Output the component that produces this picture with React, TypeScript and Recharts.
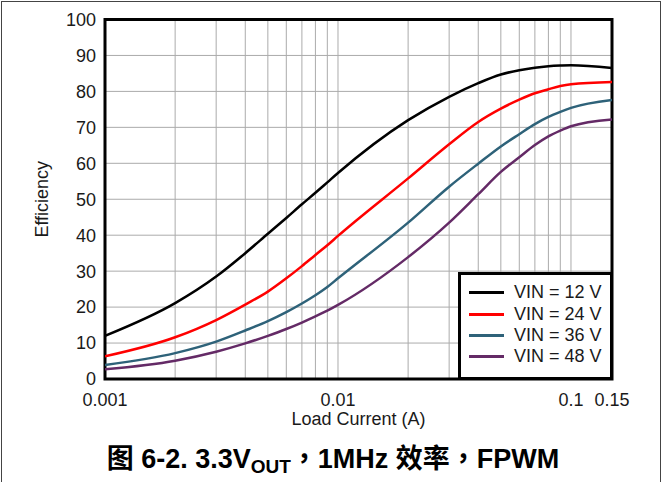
import {
  LineChart,
  Line,
  XAxis,
  YAxis,
  CartesianGrid,
  ReferenceArea,
  Legend,
} from "recharts";

// Load current (A) sample points
const currents = [
  0.001, 0.002, 0.003, 0.004, 0.005, 0.006, 0.007, 0.008, 0.009,
  0.01, 0.02, 0.03, 0.04, 0.05, 0.06, 0.07, 0.08, 0.09, 0.1, 0.15,
];

// Efficiency (%) per input voltage
const vin12 = [12, 21.1, 28.5, 35, 40.4, 44.8, 48.6, 51.8, 54.7, 57.3, 72, 78.5, 82.3, 84.7, 85.9, 86.6, 87, 87.2, 87.3, 86.5];
const vin24 = [6.3, 11.6, 16.4, 20.7, 24.3, 28, 31.4, 34.5, 37.2, 39.8, 55.8, 65.3, 71.5, 75.2, 77.7, 79.5, 80.6, 81.5, 82, 82.6];
const vin36 = [3.9, 7.2, 10.4, 13.5, 16.1, 18.6, 21, 23.3, 25.6, 28, 43.5, 53.5, 59.9, 64.7, 68.1, 70.9, 72.9, 74.3, 75.4, 77.6];
const vin48 = [2.7, 5.1, 7.6, 9.9, 12, 13.9, 15.7, 17.4, 19, 20.6, 33.9, 43.5, 51.4, 57.6, 61.7, 65.1, 67.5, 69.1, 70.3, 72.2];

const seriesNames = ["VIN = 12 V", "VIN = 24 V", "VIN = 36 V", "VIN = 48 V"];
const seriesKeys = ["vin12", "vin24", "vin36", "vin48"];
const seriesColors = ["#000000", "#ff0000", "#2e6279", "#642a66"];

// grid lines at every 1..9 step of each decade, labels only on a few
const gridTicks = [
  0.001, 0.002, 0.003, 0.004, 0.005, 0.006, 0.007, 0.008, 0.009,
  0.01, 0.02, 0.03, 0.04, 0.05, 0.06, 0.07, 0.08, 0.09, 0.1, 0.15,
];
const xLabels = [0.001, 0.01, 0.1, 0.15];
const yTicks = [0, 10, 20, 30, 40, 50, 60, 70, 80, 90, 100];

const data = currents.map((c, i) => ({
  current: c,
  vin12: vin12[i],
  vin24: vin24[i],
  vin36: vin36[i],
  vin48: vin48[i],
}));

const FONT = '"Liberation Sans", Arial, sans-serif';

function LegendBox({ payload }: any) {
  return (
    <div
      style={{
        boxSizing: "border-box",
        width: 155,
        height: 108,
        border: "3px solid #000",
        background: "#fff",
        padding: "7px 0 0 8px",
        fontFamily: FONT,
        fontSize: 18,
        color: "#1a1a1a",
      }}
    >
      {(payload || []).map((p: any) => (
        <div key={p.value} style={{ display: "flex", alignItems: "center", height: 21.4 }}>
          <span style={{ display: "inline-block", width: 35, height: 3, background: p.color, marginRight: 10 }} />
          <span>{p.value}</span>
        </div>
      ))}
    </div>
  );
}

const comma = { fontFamily: '"Noto Sans CJK TC", sans-serif' };

export default function App() {
  return (
    <div
      style={{
        position: "absolute",
        left: 0,
        top: 0,
        width: 668,
        height: 482,
        overflow: "hidden",
        background: "#fff",
      }}
    >
      {/* outer frame */}
      <div
        style={{
          position: "absolute",
          left: 1,
          top: 1,
          width: 660,
          height: 520,
          boxSizing: "border-box",
          border: "1px solid #444",
        }}
      />

      <div style={{ position: "absolute", left: 0, top: 0 }}>
        <LineChart
          width={668}
          height={430}
          data={data}
          margin={{ top: 19.5, right: 56, left: 0, bottom: 0 }}
        >
          <CartesianGrid stroke="#ababab" strokeWidth={1} />
          <XAxis
            dataKey="current"
            type="number"
            scale="log"
            domain={[0.001, 0.15]}
            ticks={gridTicks}
            interval={0}
            allowDataOverflow
            axisLine={false}
            tickLine={false}
            tickMargin={8}
            height={51}
            tickFormatter={(v: number) => (xLabels.includes(v) ? String(v) : "")}
            tick={{ fill: "#1a1a1a", fontSize: 18, fontFamily: FONT }}
            label={{
              value: "Load Current (A)",
              position: "insideBottom",
              offset: 5,
              fill: "#1a1a1a",
              fontSize: 18,
              fontFamily: FONT,
            }}
          />
          <YAxis
            type="number"
            domain={[0, 100]}
            ticks={yTicks}
            interval={0}
            width={105}
            axisLine={false}
            tickLine={false}
            tickMargin={3}
            tick={{ fill: "#1a1a1a", fontSize: 18, fontFamily: FONT }}
            label={{
              value: "Efficiency",
              angle: -90,
              position: "insideLeft",
              offset: 42,
              textAnchor: "middle",
              fill: "#1a1a1a",
              fontSize: 18,
              fontFamily: FONT,
            }}
          />
          {seriesKeys.map((k, i) => (
            <Line
              key={k}
              dataKey={k}
              name={seriesNames[i]}
              type="monotone"
              stroke={seriesColors[i]}
              strokeWidth={2.5}
              dot={false}
              isAnimationActive={false}
            />
          ))}
          <ReferenceArea
            x1={0.001}
            x2={0.15}
            y1={0}
            y2={100}
            fill="none"
            fillOpacity={0}
            stroke="#000"
            strokeWidth={3}
          />
          <Legend
            layout="horizontal"
            verticalAlign="middle"
            align="center"
            content={<LegendBox />}
            wrapperStyle={{ left: 458, top: 272, width: 155, height: 108 }}
          />
        </LineChart>
      </div>

      {/* caption */}
      <div
        style={{
          position: "absolute",
          left: 0,
          top: 443,
          width: 666,
          textAlign: "center",
          fontFamily: '"Liberation Sans", Arial, "Noto Sans CJK SC", sans-serif',
          fontWeight: "bold",
          fontSize: 27,
          lineHeight: "27px",
          color: "#000",
          whiteSpace: "nowrap",
        }}
      >
        图 6-2. 3.3V
        <span style={{ fontSize: 19, position: "relative", top: 5 }}>OUT</span>
        <span style={comma}>，</span>1MHz 效率<span style={comma}>，</span>FPWM
      </div>
    </div>
  );
}
